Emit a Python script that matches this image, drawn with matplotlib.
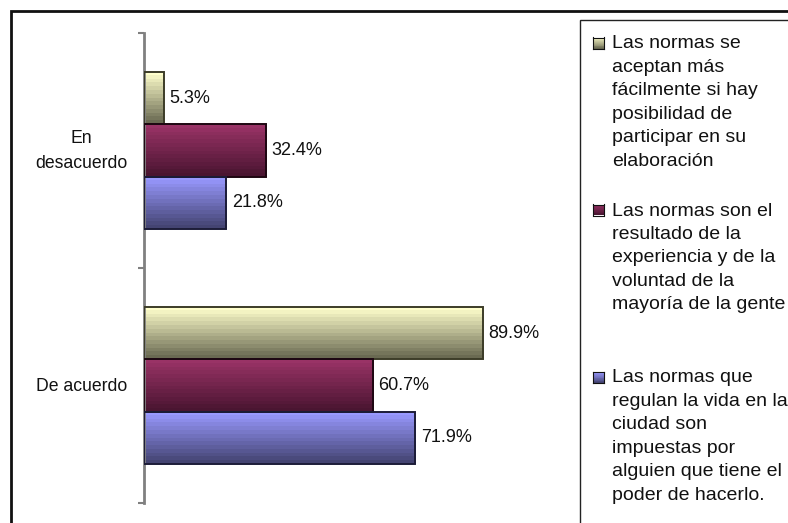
import numpy as np
import matplotlib
matplotlib.use("Agg")
import matplotlib.pyplot as plt
from matplotlib.patches import Rectangle
from matplotlib.colors import LinearSegmentedColormap

plt.rcParams['font.family'] = ['Liberation Sans', 'DejaVu Sans']

# Datos
categorias = ['De acuerdo', 'En\ndesacuerdo']
series = [
    'Las normas se\naceptan más\nfácilmente si hay\nposibilidad de\nparticipar en su\nelaboración',
    'Las normas son el\nresultado de la\nexperiencia y de la\nvoluntad de la\nmayoría de la gente',
    'Las normas que\nregulan la vida en la\nciudad son\nimpuestas por\nalguien que tiene el\npoder de hacerlo.',
]
valores_acepta = [89.9, 5.3]
valores_resultado = [60.7, 32.4]
valores_impuestas = [71.9, 21.8]

# degradado (claro arriba, oscuro abajo) y borde de cada serie
colores_claro = ['#ffffcc', '#993366', '#9999ff']
colores_oscuro = ['#6a6a52', '#4a1531', '#444472']
colores_borde = ['#3c3c28', '#1e0712', '#1c1c38']

fig = plt.figure(figsize=(7.88, 5.23), dpi=100)
W, H = 788, 523
PT = 72 / 100  # puntos por pixel

# marco exterior
fig.add_artist(Rectangle((11 / W, -0.05), 1.0, 1 - 11 / H + 0.05,
                         transform=fig.transFigure, fill=False,
                         edgecolor='#111111', linewidth=2.0))

ax = fig.add_axes([144 / W, 20 / H, 415 / W, 470 / H])

y = np.arange(len(categorias))
alto = 0.2234
datos = [valores_acepta, valores_resultado, valores_impuestas]
desplaz = [alto, 0, -alto]
grad = np.linspace(0, 1, 14).reshape(-1, 1)
cmaps = [LinearSegmentedColormap.from_list('g%d' % i, [colores_oscuro[i], colores_claro[i]])
         for i in range(3)]

for i, vals in enumerate(datos):
    bars = ax.barh(y + desplaz[i], vals, height=alto, color='none',
                   edgecolor=colores_borde[i], linewidth=1.4, zorder=3)
    for b in bars:
        x0, y0 = b.get_x(), b.get_y()
        im = ax.imshow(grad, cmap=cmaps[i], aspect='auto', origin='lower',
                       extent=[x0, x0 + b.get_width(), y0, y0 + b.get_height()],
                       interpolation='nearest', zorder=2)
        im.set_clip_path(b)
    ax.bar_label(bars, fmt='%.1f%%', padding=4, fontsize=13, color='#111111')

ax.set_xlim(0, 110)
ax.set_ylim(-0.5, 1.5)

for s in ['top', 'right', 'bottom']:
    ax.spines[s].set_visible(False)
ax.spines['left'].set_color('#808080')
ax.spines['left'].set_linewidth(2)
ax.set_xticks([])
ax.set_yticks(y)
ax.set_yticklabels([])
ax.tick_params(axis='y', which='major', length=0)
ax.set_yticks([-0.5, 0.5, 1.5], minor=True)
ax.tick_params(axis='y', which='minor', length=4, width=1.5, color='#808080')

# etiquetas de categoría: última línea base debajo del centro del grupo
paso = 23.4
for yi, cat in zip(y, categorias):
    n = cat.count('\n') + 1
    dy = 5.9 + (n - 1) * paso / 2
    ax.annotate(cat, xy=(0, yi), xycoords=('axes fraction', 'data'),
                xytext=(-17 * PT, -dy * PT), textcoords='offset points',
                ha='right', va='baseline', multialignment='center',
                fontsize=12.7, linespacing=1.63, color='#111111')

# leyenda
fig.add_artist(Rectangle((580 / W, -0.05), 1.0, 1 - 20 / H + 0.05,
                         transform=fig.transFigure, fill=False,
                         edgecolor='#222222', linewidth=1.0))
base_y = [48.5, 215.5, 382.5]
for i, texto in enumerate(series):
    b0 = base_y[i]
    cy = 1 - (b0 - 5.5) / H
    sq = fig.add_axes([593 / W, cy - 5.5 / H, 11 / W, 11 / H])
    sq.imshow(grad, cmap=cmaps[i], aspect='auto', origin='lower',
              interpolation='nearest')
    sq.set_xticks([])
    sq.set_yticks([])
    for sp in sq.spines.values():
        sp.set_color('#111111')
        sp.set_linewidth(0.8)
    for k, linea in enumerate(texto.split('\n')):
        fig.text(612 / W, 1 - (b0 + k * paso) / H, linea, fontsize=14,
                 va='baseline', ha='left', color='#111111')

fig.savefig('out.png', dpi=100)
